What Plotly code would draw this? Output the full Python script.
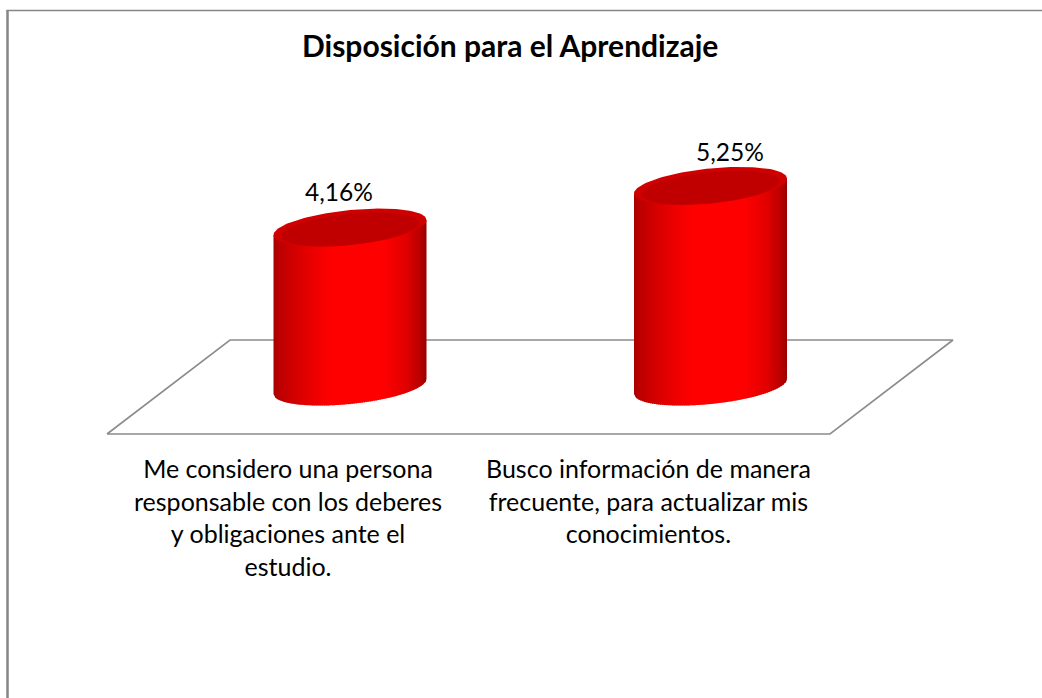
import numpy as np
import plotly.graph_objects as go

title = "Disposición para el Aprendizaje"
categories = [
    "Me considero una persona<br>responsable con los deberes<br>y obligaciones ante el<br>estudio.",
    "Busco información de manera<br>frecuente, para actualizar mis<br>conocimientos.",
]
values = [4.16, 5.25]
value_labels = ["4,16%", "5,25%"]

W, H = 1042, 698
PX_PER_CAT = 360.5
PX_PER_VAL = 38.2
X0_PX, Y0_PX = 350.0, 386.5


def xu(px):
    return 1 + (px - X0_PX) / PX_PER_CAT


def yu(px):
    return (Y0_PX - px) / PX_PER_VAL


half_w = 76.5 / PX_PER_CAT
tilt = 7.5 / PX_PER_VAL
depth = 17.5 / PX_PER_VAL
N = 76

stops_pos = [0.0, 0.03, 0.12, 0.27, 0.38, 0.72, 0.86, 0.96, 1.0]
stops_r = [165, 185, 208, 238, 255, 255, 228, 185, 150]


def shade(f):
    return f"rgb({int(np.interp(f, stops_pos, stops_r))},0,0)"


fig = go.Figure()


def poly(xs, ys, color):
    fig.add_trace(go.Scatter(x=list(xs), y=list(ys), mode="lines", fill="toself",
                             fillcolor=color, line=dict(width=0, color=color),
                             hoverinfo="skip", showlegend=False))


def line(xs, ys, width):
    fig.add_trace(go.Scatter(x=xs, y=ys, mode="lines",
                             line=dict(color="#8c8c8c", width=width),
                             hoverinfo="skip", showlegend=False))


# floor
line([xu(107), xu(830), xu(953), xu(230), xu(107)],
     [yu(434), yu(434), yu(340), yu(340), yu(434)], 1.6)

# cylinders
t = np.linspace(0, 2 * np.pi, 121)
for i, v in enumerate(values):
    cx = i + 1
    edges = np.linspace(-1, 1, N + 1)
    for j in range(N):
        c0, c1 = edges[j], min(edges[j + 1] + 0.012, 1)
        cc = np.linspace(c0, c1, 4)
        low = tilt * cc - depth * np.sqrt(1 - cc ** 2)
        xs = cx + half_w * cc
        xp = np.concatenate([xs, xs[::-1]])
        yp = np.concatenate([low, (v + tilt * cc)[::-1]])
        poly(xp, yp, shade((j + 0.5) / N))
    # top cap: rim and inner surface
    poly(cx + half_w * np.cos(t),
         v + tilt * np.cos(t) + depth * np.sin(t), "#d00000")
    poly(cx + 0.90 * half_w * np.cos(t),
         v - 0.10 * depth + 0.90 * tilt * np.cos(t) + 0.90 * depth * np.sin(t), "#c00000")

anns = []
label_px = [(339, 191), (729.5, 151)]
for lab, (px, py) in zip(value_labels, label_px):
    anns.append(dict(x=xu(px), y=yu(py), text=lab, showarrow=False,
                     font=dict(family="Lato", size=24.5, color="#000000")))
cat_px = [(288, 516.5), (648, 500)]
for lab, (px, py) in zip(categories, cat_px):
    anns.append(dict(x=xu(px), y=yu(py), text=lab, showarrow=False, align="center",
                     font=dict(family="Lato", size=25, color="#000000")))
anns.append(dict(x=xu(509.5), y=yu(45), text=f"<b>{title}</b>", showarrow=False,
                 font=dict(family="Lato", size=30, color="#000000")))

frame = dict(type="line", xref="paper", yref="paper", line=dict(color="#868686"))
shapes = [
    {**frame, "x0": 7.5 / W, "x1": 7.5 / W, "y0": 0, "y1": 1 - 10 / H, "line": dict(color="#868686", width=2.5)},
    {**frame, "x0": 6.5 / W, "x1": 1, "y0": 1 - 10.5 / H, "y1": 1 - 10.5 / H, "line": dict(color="#868686", width=1.5)},
]

fig.update_layout(
    width=W, height=H, margin=dict(l=0, r=0, t=0, b=0),
    paper_bgcolor="white", plot_bgcolor="white",
    showlegend=False, hovermode=False,
    annotations=anns, shapes=shapes,
    xaxis=dict(range=[xu(0), xu(W)], visible=False, fixedrange=True),
    yaxis=dict(range=[yu(H), yu(0)], visible=False, fixedrange=True),
)
fig.write_html("out.html", config=dict(displayModeBar=False),
               post_script="document.body.style.margin='0';")
